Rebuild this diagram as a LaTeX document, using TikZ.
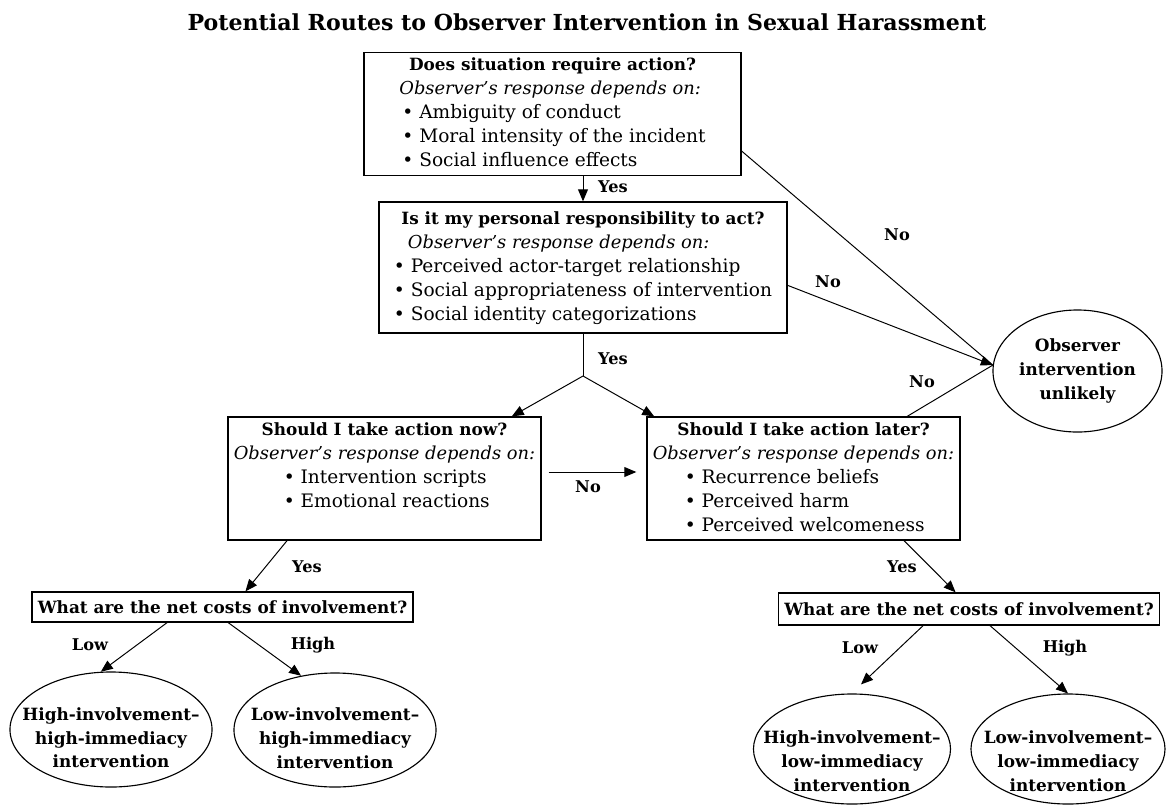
\documentclass[tikz,border=0pt]{standalone}
\usepackage{fontspec}
\setmainfont{DejaVu Serif}
\usetikzlibrary{shapes.geometric,arrows.meta,calc}

\newcommand{\dep}{{\fontsize{12.7}{17}\selectfont\itshape Observer’s response depends on:}}
\newcommand{\itm}{\textbullet\ }
\newcommand{\hd}[1]{\multicolumn{1}{@{}c@{}}{\fontsize{12}{17}\selectfont\bfseries #1}}

\begin{document}
\begin{tikzpicture}[
    x=0.025cm, y=-0.025cm,
    font=\fontsize{13.2}{17}\selectfont,
    box/.style={rectangle, draw, line width=0.9pt, inner sep=1pt, align=center},
    oval/.style={ellipse, draw, line width=0.8pt, inner sep=0pt, font=\fontsize{12}{17}\selectfont\bfseries},
    arrow/.style={-{Triangle[length=8.5pt,width=7pt]}, line width=0.7pt},
    plain/.style={line width=0.7pt},
    lbl/.style={font=\fontsize{11.5}{17}\selectfont\bfseries}
]
    \useasboundingbox (0,0) rectangle (1173,805);
    \node[font=\fontsize{15.7}{19}\selectfont\bfseries] (title) at (587,22) {Potential Routes to Observer Intervention in Sexual Harassment};

    % question boxes
    \node[box, minimum width=9.425cm, minimum height=2.95cm] (sit) at (552.5,114) {\begin{tabular}{@{}l@{}}
        \hd{Does situation require action?}\\
        \dep\\
        \,\itm Ambiguity of conduct\\
        \,\itm Moral intensity of the incident\\
        \,\itm Social influence effects
    \end{tabular}};
    \node[box, minimum width=10.2cm, minimum height=3.275cm] (resp) at (583,267.5) {\begin{tabular}{@{}l@{}}
        \hd{Is it my personal responsibility to act?}\\
        \hspace*{0.35cm}\dep\\
        \itm Perceived actor-target relationship\\
        \itm Social appropriateness of intervention\\
        \itm Social identity categorizations
    \end{tabular}};
    \node[box, minimum width=7.825cm, minimum height=3.075cm] (now) at (384.5,478.5) {\begin{tabular}{@{}l@{}}
        \hd{Should I take action now?}\\
        \dep\\
        \hspace*{1.25cm}\itm Intervention scripts\\
        \hspace*{1.25cm}\itm Emotional reactions\\
        \mbox{}
    \end{tabular}};
    \node[box, minimum width=7.825cm, minimum height=3.075cm] (later) at (803.5,478.5) {\begin{tabular}{@{}l@{}}
        \hd{Should I take action later?}\\
        \dep\\
        \hspace*{0.8cm}\itm Recurrence beliefs\\
        \hspace*{0.8cm}\itm Perceived harm\\
        \hspace*{0.8cm}\itm Perceived welcomeness
    \end{tabular}};
    \node[box, font=\fontsize{12}{17}\selectfont\bfseries, minimum width=9.525cm, minimum height=0.75cm] (net1) at (222.5,607) {What are the net costs of involvement?};
    \node[box, font=\fontsize{12}{17}\selectfont\bfseries, minimum width=9.525cm, minimum height=0.8cm] (net2) at (969,609) {What are the net costs of involvement?};

    % outcomes
    \node[oval, minimum width=4.225cm, minimum height=3.05cm] (obs) at (1077.5,371) {\makebox[0pt]{\begin{tabular}{@{}c@{}}Observer\\intervention\\unlikely\end{tabular}}};
    \node[oval, minimum width=5.05cm, minimum height=2.875cm] (HH) at (111,729.5) {\makebox[0pt]{\raisebox{-0.35cm}[0pt][0pt]{\begin{tabular}{@{}c@{}}High-involvement–\\high-immediacy\\intervention\end{tabular}}}};
    \node[oval, minimum width=5.05cm, minimum height=2.85cm] (LH) at (335,730) {\makebox[0pt]{\raisebox{-0.35cm}[0pt][0pt]{\begin{tabular}{@{}c@{}}Low-involvement–\\high-immediacy\\intervention\end{tabular}}}};
    \node[oval, minimum width=4.925cm, minimum height=2.75cm] (HL) at (852,749) {\makebox[0pt]{\raisebox{-0.45cm}[0pt][0pt]{\begin{tabular}{@{}c@{}}High-involvement–\\low-immediacy\\intervention\end{tabular}}}};
    \node[oval, minimum width=4.85cm, minimum height=2.75cm] (LL) at (1068,749) {\makebox[0pt]{\raisebox{-0.45cm}[0pt][0pt]{\begin{tabular}{@{}c@{}}Low-involvement–\\low-immediacy\\intervention\end{tabular}}}};

    % connectors
    \coordinate (fork) at (583,376);
    \draw[arrow] (sit.south -| resp.north) -- (resp.north);
    \draw[plain] (resp.south) -- (fork);
    \draw[arrow] (fork) -- ($(now.north)!0.81!(now.north east)$);
    \draw[arrow] (fork) -- ($(later.north west)!0.05!(later.north)$);
    \draw[arrow] ($(now.east)+(7,-6.5)$) -- ($(later.west)+(-10,-6.5)$);

    \draw[plain] ($(sit.east)!0.6!(sit.south east)$) -- (obs.176);
    \draw[arrow] ($(resp.east)!0.27!(resp.south east)$) -- (obs.176);
    \draw[plain] ($(later.north)!0.66!(later.north east)$) -- (obs.176);

    \draw[arrow] ($(now.south)!0.62!(now.south west)$) -- ($(net1.north)!0.12!(net1.north east)$);
    \draw[arrow] ($(net1.south)!0.29!(net1.south west)$) -- (HH.100);
    \draw[arrow] ($(net1.south)!0.03!(net1.south east)$) -- (LH.122);

    \draw[arrow] ($(later.south)!0.64!(later.south east)$) -- ($(net2.north)!0.07!(net2.north west)$);
    \draw[arrow] ($(net2.south)!0.24!(net2.south west)$) -- ($(HL.north)+(9,-9)$);
    \draw[arrow] ($(net2.south)!0.11!(net2.south east)$) -- (LL.north);

    % labels
    \node[lbl] (yes1) at (613,187) {Yes};
    \node[lbl] (yes2) at (613,359) {Yes};
    \node[lbl] (no1) at (897,235) {No};
    \node[lbl] (no2) at (828,282) {No};
    \node[lbl] (no3) at (922,382) {No};
    \node[lbl] (no4) at (588,487) {No};
    \node[lbl] (yes3) at (307,567) {Yes};
    \node[lbl] (low1) at (90,645) {Low};
    \node[lbl] (high1) at (313,645) {High};
    \node[lbl] (yes4) at (902,567) {Yes};
    \node[lbl] (low2) at (860,648) {Low};
    \node[lbl] (high2) at (1065,648) {High};
\end{tikzpicture}
\end{document}
